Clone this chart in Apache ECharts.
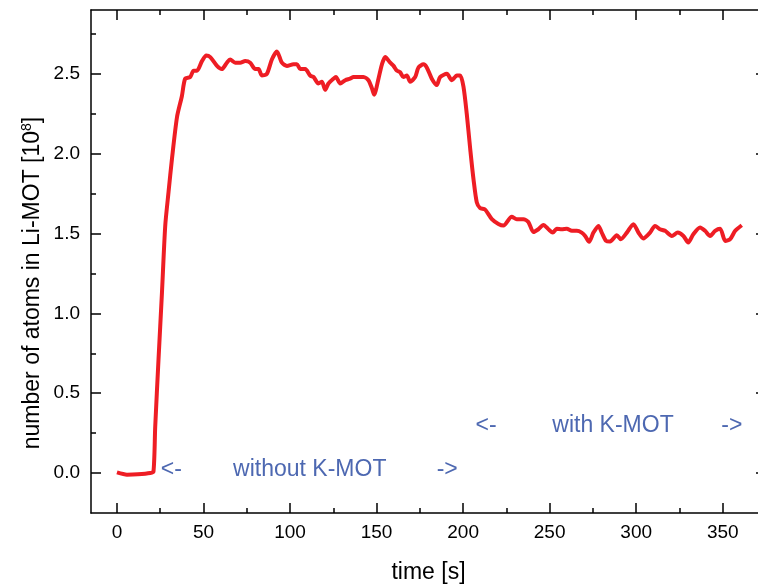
<!DOCTYPE html>
<html>
<head>
<meta charset="utf-8">
<script src="https://cdn.jsdelivr.net/npm/echarts@6/dist/echarts.min.js"></script>
<style>html,body{margin:0;padding:0;background:#fff}#c{width:758px;height:584px}</style>
</head>
<body>
<div id="c"></div>
<script>
var timeS = [0, 5.8, 12, 19.2, 21.1, 22.1, 24.0, 26.0, 27.9, 29.8, 31.8, 34.7, 37.5, 39.4, 42.3, 44.3, 46.2, 49.1, 51.6, 53.9, 57.8, 60.6, 63.5, 65.4, 68.3, 71.2, 74.1, 77.0, 79.9, 81.8, 83.7, 86.6, 89.5, 92.4, 95.3, 98.2, 102.0, 104.0, 105.9, 108.8, 111.6, 113.6, 116.4, 118.4, 120.3, 122.2, 125.1, 126.5, 129.0, 131.9, 134.7, 136.7, 139.5, 142.4, 145.3, 147.3, 148.6, 151.1, 153.1, 155.0, 157.9, 159.8, 161.7, 163.6, 165.5, 167.5, 169.4, 172.3, 174.2, 177.1, 179.0, 181.9, 184.8, 186.7, 190.6, 193.5, 196.4, 198.3, 200.2, 202.1, 204.1, 206.0, 207.9, 209.8, 212.7, 216.6, 220.4, 223.3, 228.1, 231.0, 234.8, 237.7, 240.6, 243.5, 246.4, 249.3, 251.8, 254.1, 257.0, 259.9, 262.8, 265.7, 268.5, 270.5, 272.8, 275.3, 278.2, 280.1, 282.6, 284.9, 288.8, 291.1, 294.6, 298.4, 301.3, 304.1, 308.0, 310.9, 313.8, 316.7, 320.6, 324.0, 327.3, 330.1, 333.0, 336.9, 339.8, 342.7, 345.6, 348.5, 351.5, 354.3, 357.2, 361.0];
var atoms = [0.004, -0.01, -0.008, 0.0, 0.01, 0.29, 0.71, 1.13, 1.55, 1.76, 1.97, 2.23, 2.36, 2.47, 2.48, 2.52, 2.52, 2.58, 2.615, 2.605, 2.55, 2.53, 2.57, 2.59, 2.57, 2.57, 2.58, 2.57, 2.53, 2.53, 2.49, 2.50, 2.59, 2.64, 2.57, 2.55, 2.56, 2.56, 2.53, 2.53, 2.49, 2.48, 2.44, 2.45, 2.40, 2.44, 2.47, 2.48, 2.44, 2.46, 2.47, 2.48, 2.48, 2.48, 2.46, 2.41, 2.37, 2.47, 2.56, 2.605, 2.57, 2.55, 2.52, 2.51, 2.48, 2.49, 2.45, 2.48, 2.54, 2.56, 2.54, 2.47, 2.43, 2.48, 2.50, 2.46, 2.49, 2.49, 2.42, 2.25, 2.03, 1.84, 1.695, 1.66, 1.65, 1.59, 1.56, 1.55, 1.605, 1.59, 1.59, 1.573, 1.51, 1.527, 1.554, 1.527, 1.506, 1.53, 1.527, 1.53, 1.517, 1.517, 1.506, 1.485, 1.448, 1.506, 1.548, 1.506, 1.454, 1.45, 1.49, 1.465, 1.506, 1.559, 1.506, 1.469, 1.506, 1.548, 1.527, 1.517, 1.485, 1.506, 1.485, 1.444, 1.496, 1.538, 1.517, 1.485, 1.517, 1.53, 1.454, 1.465, 1.517, 1.552];

var xMajor = [0, 50, 100, 150, 200, 250, 300, 350];
var xMinor = [25, 75, 125, 175, 225, 275, 325];
var yMajor = [0.0, 0.5, 1.0, 1.5, 2.0, 2.5];
var yMinor = [0.25, 0.75, 1.25, 1.75, 2.25, 2.75];

var annoText = ['<-', 'without K-MOT', '->', '<-', 'with K-MOT', '->'];
var annoX = [31.4, 111.4, 190.8, 213.3, 286.6, 355.3];
var annoY = [0.02, 0.02, 0.02, 0.295, 0.295, 0.295];

var FONT = '"Liberation Sans", Arial, Helvetica, sans-serif';
var X_MIN = -15, X_MAX = 375, Y_MIN = -0.25, Y_MAX = 2.9;

function xAx(pos, ticks, len, showLine, showLabel) {
  return {
    type: 'value', position: pos, min: X_MIN, max: X_MAX, gridIndex: 0,
    axisLine: {show: showLine, onZero: false, lineStyle: {color: '#000', width: 1.5}},
    axisTick: {show: true, inside: true, length: len, customValues: ticks, lineStyle: {color: '#000', width: 1.5}},
    axisLabel: {show: showLabel, customValues: ticks, margin: 10, fontSize: 19, color: '#000', fontFamily: FONT},
    splitLine: {show: false}
  };
}
function yAx(pos, ticks, len, showLine, showLabel) {
  return {
    type: 'value', position: pos, min: Y_MIN, max: Y_MAX, gridIndex: 0,
    axisLine: {show: showLine, onZero: false, lineStyle: {color: '#000', width: 1.5}},
    axisTick: {show: true, inside: true, length: len, customValues: ticks, lineStyle: {color: '#000', width: 1.5}},
    axisLabel: {show: showLabel, customValues: ticks, margin: 11, fontSize: 19, color: '#000', fontFamily: FONT,
      formatter: function (v) { return v.toFixed(1); }},
    splitLine: {show: false}
  };
}

var xb = xAx('bottom', xMajor, 10, true, true);
xb.name = 'time [s]';
xb.nameLocation = 'middle';
xb.nameGap = 48;
xb.nameTextStyle = {fontSize: 23, color: '#000', fontFamily: FONT};

var chart = echarts.init(document.getElementById('c'), null, {renderer: 'canvas'});
chart.setOption({
  animation: false,
  backgroundColor: '#fff',
  grid: {left: 91, top: 10, width: 675, height: 503, containLabel: false, outerBoundsMode: 'none'},
  xAxis: [xb, xAx('bottom', xMinor, 5, false, false), xAx('top', xMajor, 10, true, false), xAx('top', xMinor, 5, false, false)],
  yAxis: [yAx('left', yMajor, 10, true, true), yAx('left', yMinor, 5, false, false), yAx('right', yMajor, 10, true, false), yAx('right', yMinor, 5, false, false)],
  graphic: [{
    type: 'text', x: 33, y: 283, rotation: Math.PI / 2,
    style: {
      text: 'number of atoms in Li-MOT [10{sup|8}]',
      font: '23px ' + FONT, fill: '#000', align: 'center', verticalAlign: 'middle',
      rich: {sup: {fontSize: 14, fontFamily: FONT, fill: '#000', padding: [0, 0, 12, 0]}}
    }
  }],
  series: [{
    type: 'line', xAxisIndex: 0, yAxisIndex: 0,
    data: timeS.map(function (t, i) { return [t, atoms[i]]; }),
    showSymbol: false, smooth: 0.25,
    lineStyle: {color: '#EE1D24', width: 4},
    z: 3
  }, {
    type: 'scatter', xAxisIndex: 0, yAxisIndex: 0, symbolSize: 0,
    data: annoX.map(function (x, i) { return [x, annoY[i], annoText[i]]; }),
    label: {show: true, position: 'inside', formatter: function (p) { return p.data[2]; },
      fontSize: 23, color: '#21429E', fontFamily: FONT},
    z: 4
  }]
});
</script>
</body>
</html>
